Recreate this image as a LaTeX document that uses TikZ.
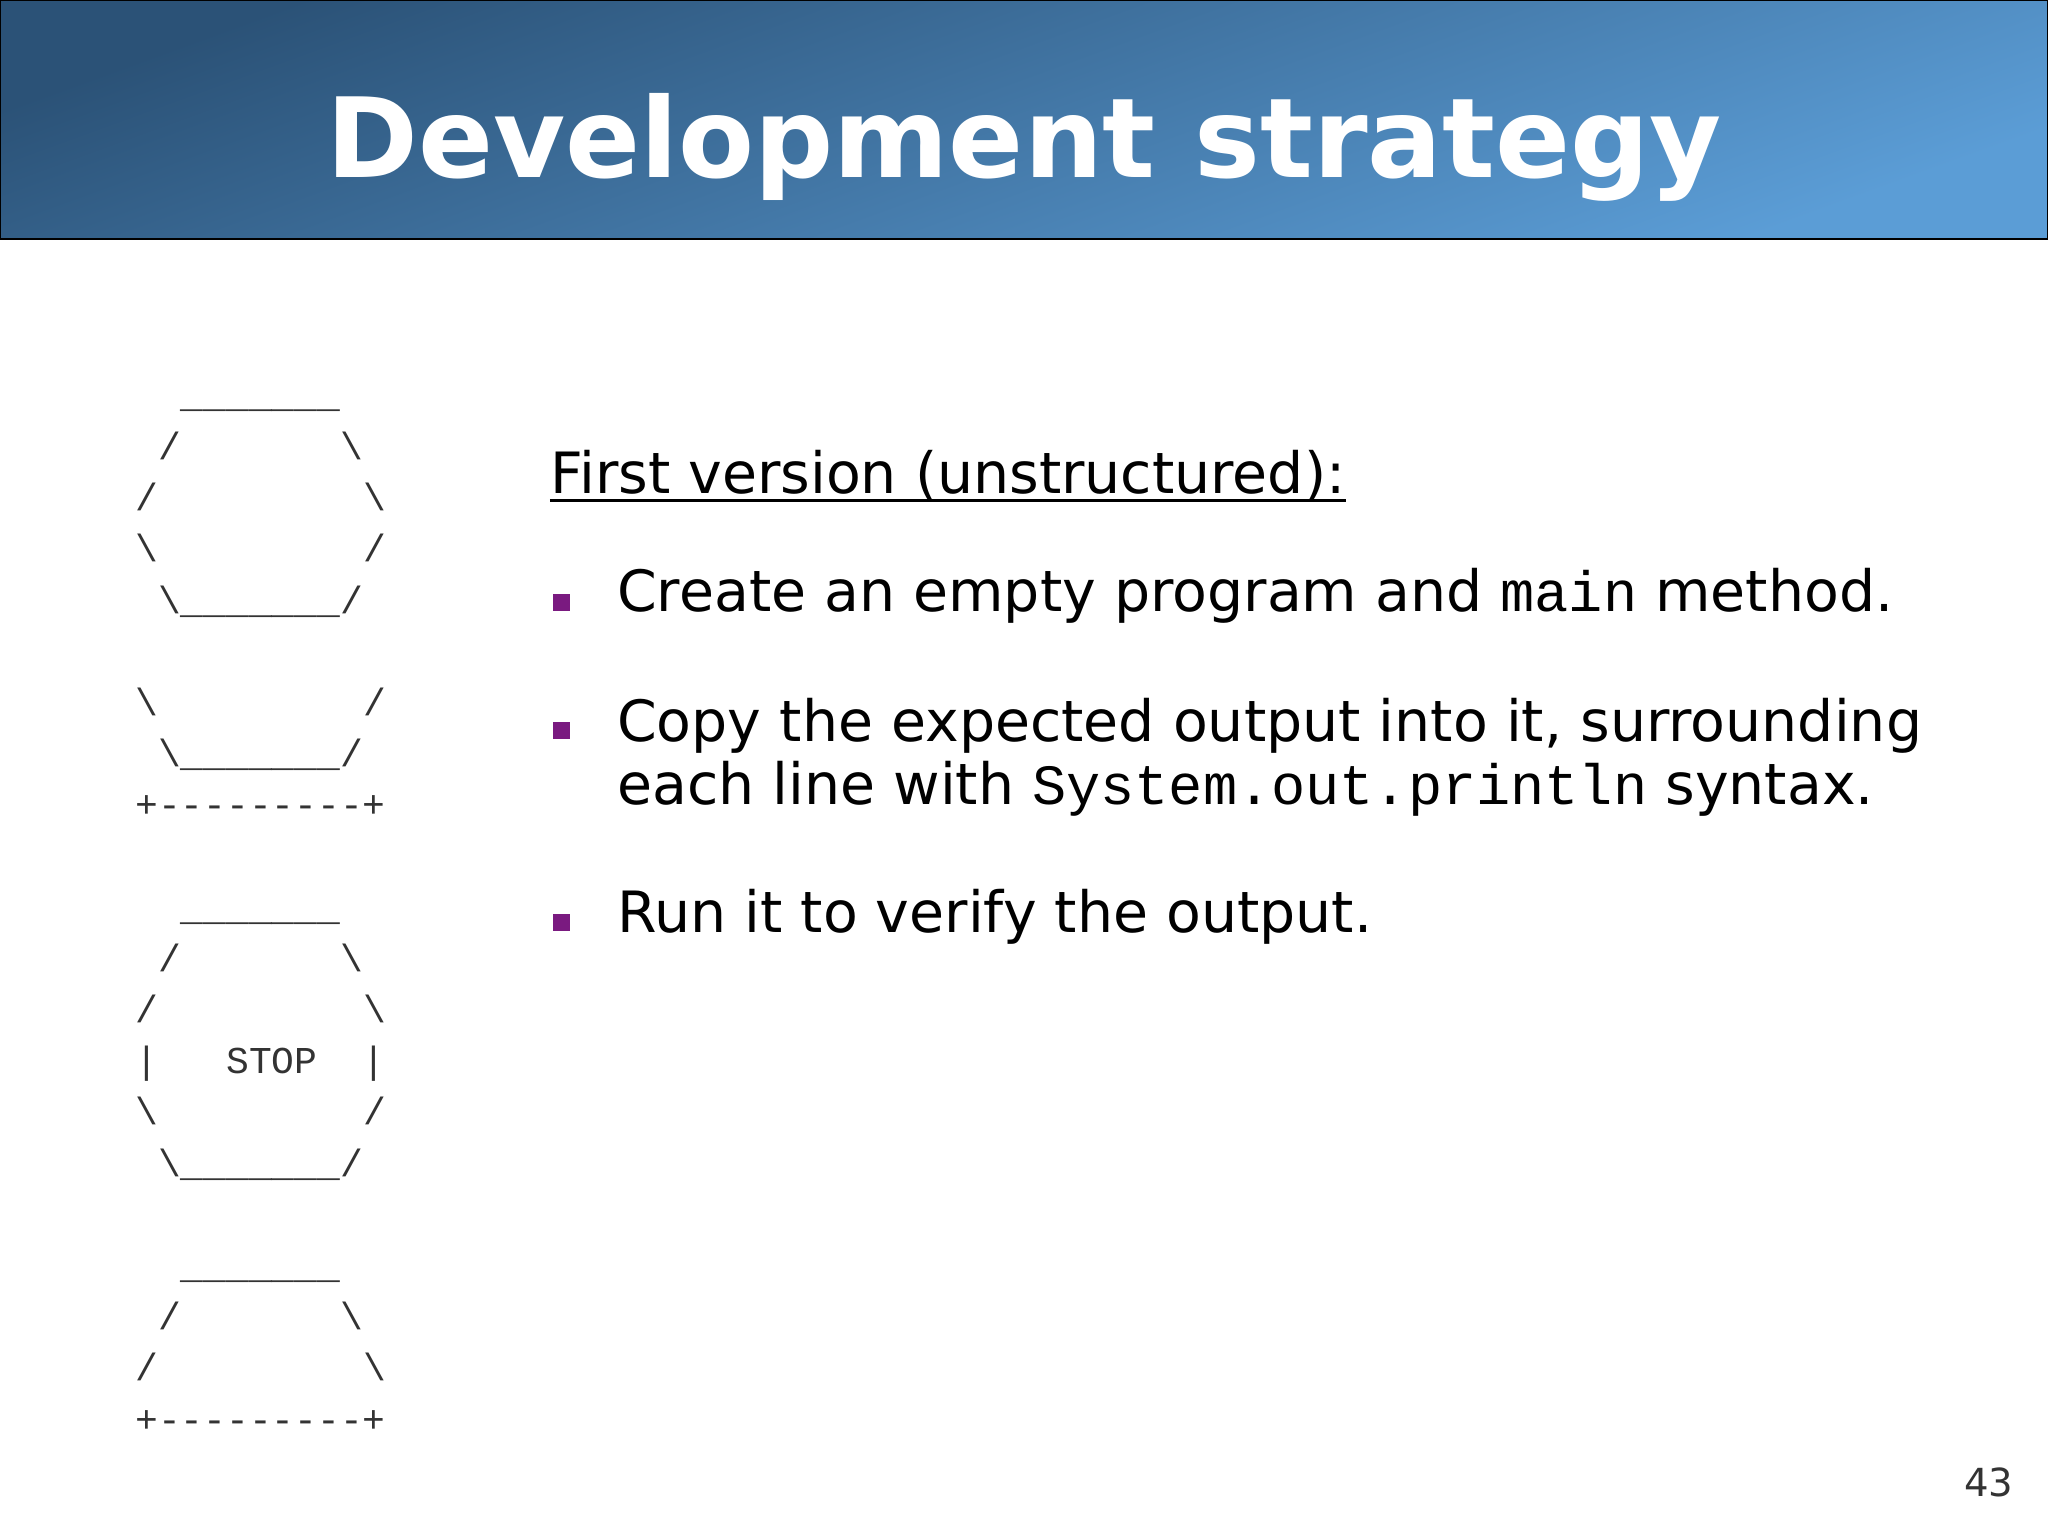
\documentclass[tikz,border=0pt]{standalone}
\usepackage{fontspec}
\setmainfont{DejaVu Sans}
\setmonofont{Liberation Mono}
\definecolor{hdark}{HTML}{2B5277}
\definecolor{hlight}{HTML}{5B9DD6}
\definecolor{bul}{HTML}{7A1A80}
\definecolor{art}{HTML}{333333}
\begin{document}
\begin{tikzpicture}[x=0.01306cm,y=-0.01306cm,
  artline/.style={anchor=base west,inner sep=0pt,font=\ttfamily\fontsize{10.8}{13}\selectfont,text=art},
  body/.style={anchor=base west,inner sep=0pt,font=\fontsize{16.2}{20}\selectfont},
  bullet/.style={fill=bul,minimum size=0.17cm,inner sep=0pt}]
\useasboundingbox (0,0) rectangle (1568,1176);
\fill[white] (0,0) rectangle (1568,1176);
\shade[top color=hdark,bottom color=hlight,shading angle=20] (0,0) rectangle (1568,183);
\draw[black,line width=0.8pt] (0,0) rectangle (1568,183);
\node[anchor=base,inner sep=0pt,text=white,font=\bfseries\fontsize{31.5}{36}\selectfont] (title) at (784,136) {Development strategy};
\foreach \yy/\tt in {312/{\mbox{}~~\_\_\_\_\_\_\_},352/{\mbox{}~/~~~~~~~\textbackslash},391/{/~~~~~~~~~\textbackslash},430/{\textbackslash~~~~~~~~~/},470/{\mbox{}~\textbackslash\_\_\_\_\_\_\_/},
548/{\textbackslash~~~~~~~~~/},587/{\mbox{}~\textbackslash\_\_\_\_\_\_\_/},626/{+---------+},
705/{\mbox{}~~\_\_\_\_\_\_\_},744/{\mbox{}~/~~~~~~~\textbackslash},783/{/~~~~~~~~~\textbackslash},822/{|~~~STOP~~|},861/{\textbackslash~~~~~~~~~/},901/{\mbox{}~\textbackslash\_\_\_\_\_\_\_/},
979/{\mbox{}~~\_\_\_\_\_\_\_},1018/{\mbox{}~/~~~~~~~\textbackslash},1057/{/~~~~~~~~~\textbackslash},1097/{+---------+}}
  \node[artline] (a\yy) at (103,\yy) {\tt};
\node[body] (head) at (421,378) {First version (unstructured):};
\draw[line width=0.9pt] ([yshift=-0.07cm]head.base west) -- ([yshift=-0.07cm]head.base east);
\node[bullet] (b1) at (430,461) {};
\node[body] (t1) at (472,468) {Create an empty program and {\ttfamily main} method.};
\node[bullet] (b2) at (430,559) {};
\node[body] (t2) at (472,568) {Copy the expected output into it, surrounding};
\node[body] (t2b) at (472,616) {each line with {\ttfamily System.out.println} syntax.};
\node[bullet] (b3) at (430,706) {};
\node[body] (t3) at (472,714) {Run it to verify the output.};
\node[anchor=base east,inner sep=0pt,text=art,font=\fontsize{11}{13}\selectfont] (pg) at (1542,1146) {43};
\end{tikzpicture}
\end{document}
